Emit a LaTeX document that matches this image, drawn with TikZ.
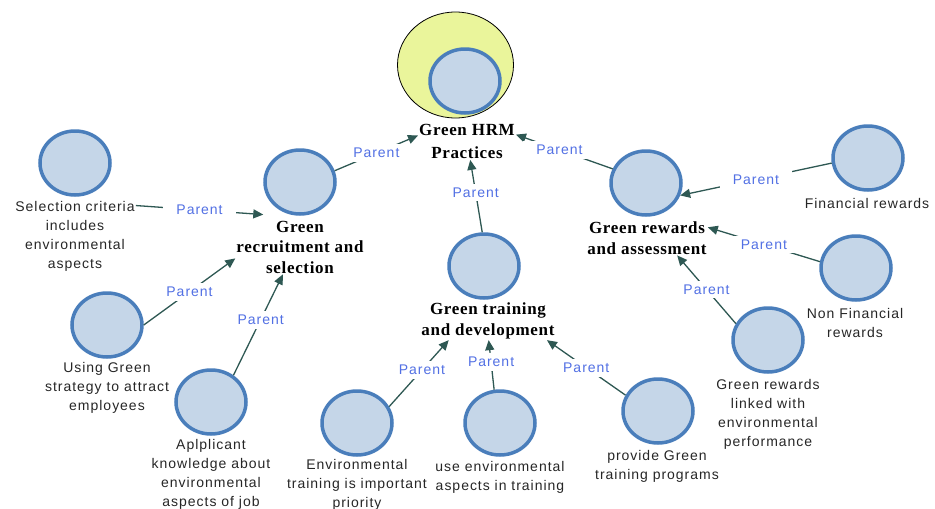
\documentclass[tikz,border=0pt]{standalone}
\usepackage{fontspec}
\usetikzlibrary{arrows.meta,shapes.geometric}
\newfontfamily\lblfont[LetterSpace=7]{Liberation Sans}
\newfontfamily\hdfont[LetterSpace=4]{Liberation Serif}

\definecolor{ringblue}{RGB}{74,126,187}
\definecolor{discfill}{RGB}{197,214,232}
\definecolor{rootfill}{RGB}{234,245,155}
\definecolor{linkcol}{RGB}{46,88,83}
\definecolor{parentcol}{RGB}{82,112,228}

\tikzset{
  disc/.style={ellipse, draw=ringblue, line width=3.5pt, fill=discfill,
    minimum width=70pt, minimum height=64pt, inner sep=0pt},
  leaf/.style={align=center, inner sep=1pt, text=black!85,
    font=\lblfont\fontsize{14}{19}\selectfont},
  head/.style={align=center, inner sep=1pt,
    font=\hdfont\bfseries\fontsize{17}{20.5}\selectfont},
  link/.style={draw=linkcol, line width=1.3pt,
    -{Triangle[length=10pt,width=9pt]}},
  plabel/.style={fill=white, text=parentcol, inner xsep=13pt, inner ysep=4pt,
    font=\lblfont\fontsize{14}{16}\selectfont}
}

\begin{document}
\begin{tikzpicture}[x=1pt,y=-1pt]
\useasboundingbox (0,0) rectangle (935,509);

% root
\node[ellipse, draw=black, line width=0.8pt, fill=rootfill,
      minimum width=116pt, minimum height=106pt] (rootring) at (455.5,65) {};
\node[disc] (root) at (465,81) {};
\node[head, font=\hdfont\bfseries\fontsize{17}{23}\selectfont] (hrmL) at (467,141.5) {Green HRM\\Practices};

% second level
\node[disc] (rec) at (300,182) {};
\node[head] (recL) at (300,247) {Green\\recruitment and\\selection};
\node[disc] (train) at (484,266) {};
\node[head] (trainL) at (488,321) {Green training\\and development};
\node[disc] (rew) at (646,183) {};
\node[head] (rewL) at (647,238) {Green rewards\\and assessment};

% recruitment leaves
\node[disc] (sel) at (75,163) {};
\node[leaf] (selL) at (75,236.5) {Selection criteria\\includes\\environmental\\aspects};
\node[disc] (using) at (107,325) {};
\node[leaf] (usingL) at (107,388) {Using Green\\strategy to attract\\employees};
\node[disc] (apl) at (211,402) {};
\node[leaf] (aplL) at (211,474) {Aplplicant\\knowledge about\\environmental\\aspects of job};

% training leaves
\node[disc] (env) at (357,423) {};
\node[leaf] (envL) at (357,485) {Environmental\\training is important\\priority};
\node[disc] (use) at (500,423) {};
\node[leaf] (useL) at (500,477) {use environmental\\aspects in training};
\node[disc] (prov) at (658,411) {};
\node[leaf] (provL) at (657,466) {provide Green\\training programs};

% reward leaves
\node[disc] (fin) at (868,158) {};
\node[leaf] (finL) at (867,203) {Financial rewards};
\node[disc] (nonfin) at (856,268) {};
\node[leaf] (nonfinL) at (855,322.5) {Non Financial\\rewards};
\node[disc] (linked) at (768,340) {};
\node[leaf] (linkedL) at (768,414) {Green rewards\\linked with\\environmental\\performance};

% parent links
\draw[link] (rec.18) -- node[plabel,pos=0.5]{Parent} (hrmL.173);
\draw[link] (train.93) -- node[plabel,pos=0.55]{Parent} (hrmL.-80);
\draw[link] (rew.157) -- node[plabel,pos=0.55]{Parent} (hrmL.8);

\draw[link] (selL.27) -- node[plabel,pos=0.5]{Parent} ([xshift=28pt,yshift=5pt]recL.north west);
\draw[link] (using.east) -- node[plabel,pos=0.5]{Parent} (recL.190);
\draw[link] (apl.50) -- node[plabel,pos=0.55]{Parent} (recL.238);

\draw[link] (env.27) -- node[plabel,pos=0.55]{Parent} (trainL.206);
\draw[link] (use.100) -- node[plabel,pos=0.56]{Parent} (trainL.-88);
\draw[link] (prov.154) -- node[plabel,pos=0.5]{Parent} (trainL.-18);

\draw[link] (fin.188) -- node[plabel,pos=0.5]{Parent} (rew.-20);
\draw[link] (nonfin.170) -- node[plabel,pos=0.5]{Parent} (rewL.10);
\draw[link] (linked.153) -- node[plabel,pos=0.5]{Parent} (rewL.-30);
\end{tikzpicture}
\end{document}
